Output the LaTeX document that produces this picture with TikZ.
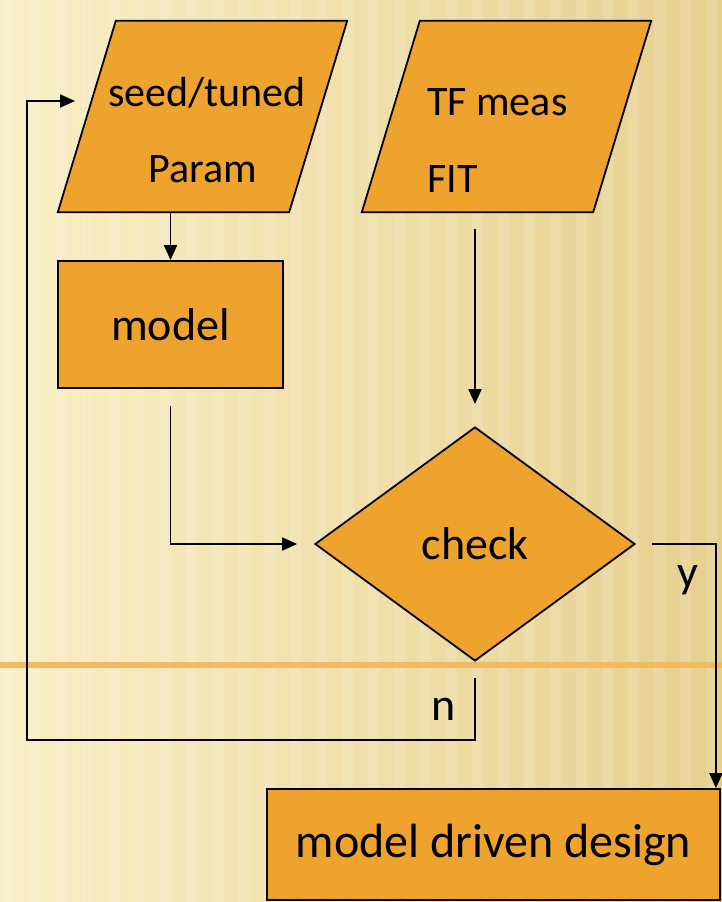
\documentclass[tikz,border=0pt]{standalone}
\usepackage{fontspec}
\setmainfont{Carlito}
\usetikzlibrary{shapes.geometric,arrows.meta}
\definecolor{boxfill}{HTML}{EEA32F}
\definecolor{bgleft}{HTML}{FAEEC6}
\definecolor{bgright}{HTML}{E6D08E}
\definecolor{band}{HTML}{EFBC63}

\begin{document}
\begin{tikzpicture}[x=1pt,y=-1pt,
		shapeline/.style={draw=black,fill=boxfill,line width=1.8pt,inner sep=0pt},
		box/.style={shapeline,rectangle,font=\fontsize{46}{55}\selectfont},
		parabox/.style={inner sep=0pt,minimum width=289pt,minimum height=191pt},
		decide/.style={shapeline,diamond,minimum width=320pt,minimum height=234pt,
			font=\fontsize{46}{55}\selectfont},
		txt/.style={inner sep=0pt,font=\fontsize{42}{50}\selectfont},
		conn/.style={line width=1.9pt,-{Triangle[length=15pt,width=13pt]}}]
	% background
	\useasboundingbox (0,0) rectangle (722,902);
	\fill[left color=bgleft,right color=bgright] (0,0) rectangle (722,902);
	\foreach \sx in {4,30,...,710}
		\fill[white,opacity=.13] (\sx,0) rectangle ++(11,902);
	\fill[band] (0,662) rectangle (722,668);

	% shapes
	\node[parabox] (seed) at (202.5,116.5) {};
	\node[parabox] (tf) at (506.5,116.5) {};
	\foreach \p in {seed,tf}
		\draw[shapeline] ([xshift=58pt]\p.north west) -- (\p.north east)
			-- ([xshift=-58pt]\p.south east) -- (\p.south west) -- cycle;
	\node[txt,anchor=base] (seedA) at (207,106) {seed/tuned};
	\node[txt,anchor=base] (seedB) at (203,182) {Param};
	\node[txt,anchor=base west] (tfA) at (427,115) {TF meas};
	\node[txt,anchor=base west] (tfB) at (427,192) {FIT};
	\node[box,minimum width=225pt,minimum height=127pt] (model) at (170.5,324.5) {model};
	\node[decide] (check) at (475,544) {check};
	\node[box,font=\fontsize{48}{57}\selectfont,minimum width=453pt,minimum height=111pt] (design) at (493.5,844.5) {model driven design};
	\node[txt,font=\fontsize{46}{55}\selectfont,anchor=base] (yes) at (688,587) {y};
	\node[txt,font=\fontsize{46}{55}\selectfont,anchor=base] (no) at (444,720) {n};
	\coordinate (loop) at (27,740);
	\coordinate (seedin) at (75,101);

	% connectors
	\draw[conn] (model.north |- seed.south) -- (model.north);
	\draw[conn] ([yshift=-17pt]model.south) |- ([xshift=-17pt]check.west);
	\draw[conn] ([yshift=-17pt]check.north |- tf.south) -- ([yshift=22pt]check.north);
	\draw[conn] ([xshift=16pt]check.east) -| ([xshift=-5pt]design.north east);
	\draw[conn] ([yshift=-16pt]check.south) |- (loop) |- (seedin);
\end{tikzpicture}
\end{document}
